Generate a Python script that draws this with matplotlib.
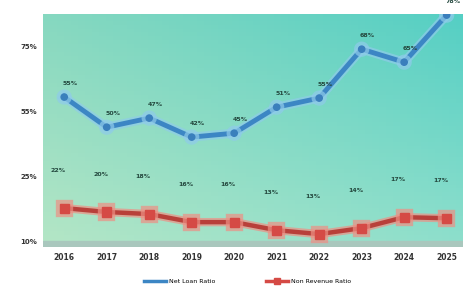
import numpy as np
import matplotlib.pyplot as plt
import matplotlib.patheffects as pe
from matplotlib.lines import Line2D

years = [2016, 2017, 2018, 2019, 2020, 2021, 2022, 2023, 2024, 2025]
net_loan = [55.4, 43.8, 47.3, 40.0, 41.5, 51.5, 55.0, 73.8, 68.8, 86.9]
non_revenue = [12.7, 11.2, 10.4, 7.3, 7.3, 4.2, 2.7, 5.0, 9.2, 8.8]
net_loan_labels = ["55%", "50%", "47%", "42%", "45%", "51%", "55%", "68%", "65%", "78%"]
non_revenue_labels = ["22%", "20%", "18%", "16%", "16%", "13%", "13%", "14%", "17%", "17%"]
ytick_vals = [0, 25, 50, 75]
ytick_labels = ["10%", "25%", "55%", "75%"]

fig = plt.figure(figsize=(4.67, 2.87), dpi=100)
ax = fig.add_axes([0.092, 0.139, 0.899, 0.812])

# gradient background
grad = np.zeros((60, 60, 3))
c_bl = np.array([0xb4, 0xe6, 0xc6]) / 255
c_tl = np.array([0x86, 0xd8, 0xc0]) / 255
c_br = np.array([0x8e, 0xdf, 0xcc]) / 255
c_tr = np.array([0x55, 0xcf, 0xc4]) / 255
for i in range(60):
    for j in range(60):
        u, v = j / 59, i / 59
        grad[i, j] = (1 - u) * (1 - v) * c_tl + u * (1 - v) * c_tr + (1 - u) * v * c_bl + u * v * c_br
ax.imshow(grad, extent=[0, 1, 0, 1], transform=ax.transAxes, aspect="auto", zorder=0)
ax.axhspan(-2.3, 0.2, color="#a9c7bd", zorder=1)

ax.set_xlim(2015.5, 2025.38)
ax.set_ylim(-2.3, 87.3)

glow = [pe.Stroke(linewidth=6.5, foreground="#8fcbea", alpha=0.7), pe.Normal()]
ax.plot(years, net_loan, color="#3c86c4", lw=3.5, marker="o", ms=4.5,
        markerfacecolor="#3a7fbc", markeredgecolor="#3a7fbc", zorder=4,
        path_effects=glow)
rglow = [pe.Stroke(linewidth=6, foreground="#ee8f84", alpha=0.7), pe.Normal()]
ax.plot(years, non_revenue, color="#b8403a", lw=3.2, marker="s", ms=6.5,
        markerfacecolor="#d54a45", markeredgecolor="#d54a45", zorder=4,
        path_effects=rglow)

for x, y, t in zip(years, net_loan, net_loan_labels):
    ax.annotate(t, (x, y), xytext=(6, 12), textcoords="offset pixels",
                ha="center", fontsize=4.5, fontweight="bold", color="#24483e", zorder=5)
for x, y, t in zip(years, non_revenue, non_revenue_labels):
    ax.annotate(t, (x, y), xytext=(-6, 36), textcoords="offset pixels",
                ha="center", fontsize=4.5, fontweight="bold", color="#24483e", zorder=5)

ax.set_xticks(years)
ax.set_xticklabels([str(y) for y in years], fontsize=5.5, fontweight="bold", color="#333333")
ax.set_yticks(ytick_vals)
ax.set_yticklabels(ytick_labels, fontsize=5, fontweight="bold", color="#333333")
ax.tick_params(length=0, pad=4)
for s in ax.spines.values():
    s.set_visible(False)

handles = [Line2D([], [], color="#3c86c4", lw=2.5),
           Line2D([], [], color="#d54a45", lw=2.5, marker="s", ms=4)]
fig.legend(handles, ["Net Loan Ratio", "Non Revenue Ratio"], loc="lower center",
           bbox_to_anchor=(0.53, -0.01), ncol=2, frameon=False,
           fontsize=4.5, columnspacing=8, handlelength=3.5, handletextpad=0.5)

fig.savefig("out.png", dpi=100)
